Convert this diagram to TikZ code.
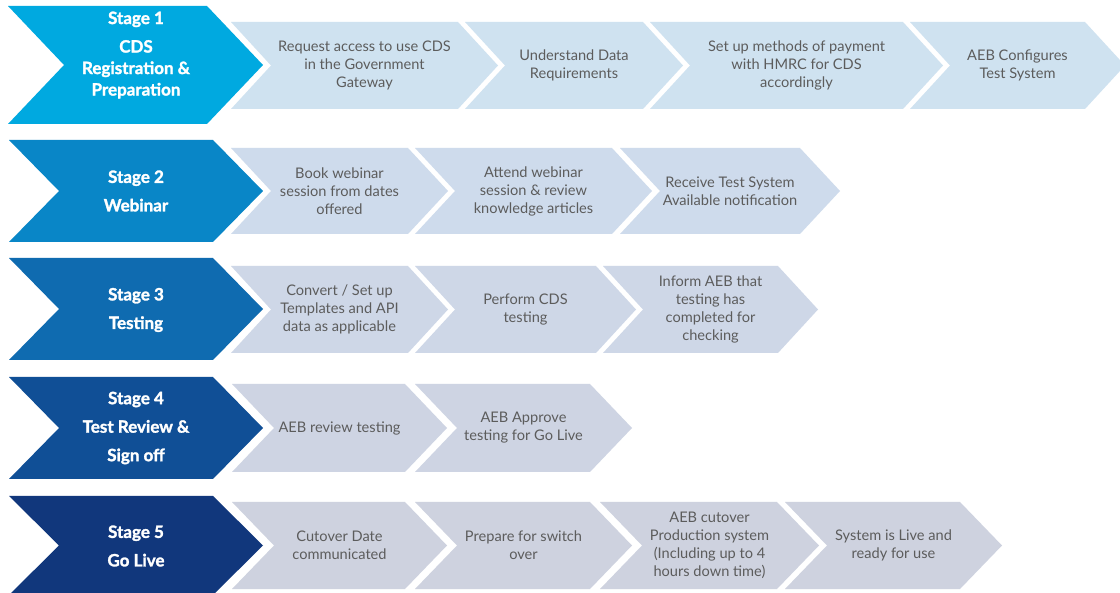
\documentclass[tikz,border=0pt]{standalone}
\usepackage{fontspec}
\setmainfont{Lato}[BoldFeatures={FakeBold=1.6}]
\definecolor{stageA}{RGB}{0,169,224}
\definecolor{stageB}{RGB}{9,134,199}
\definecolor{stageC}{RGB}{15,107,176}
\definecolor{stageD}{RGB}{16,79,150}
\definecolor{stageE}{RGB}{17,55,124}
\definecolor{lightA}{RGB}{207,226,240}
\definecolor{lightB}{RGB}{206,219,236}
\definecolor{lightC}{RGB}{206,215,231}
\definecolor{lightD}{RGB}{206,212,227}
\definecolor{lightE}{RGB}{206,210,223}
\definecolor{txtgray}{RGB}{92,92,92}
\tikzset{
  steptext/.style={text=txtgray, align=center, font=\fontsize{14.6}{18}\selectfont, inner sep=0pt},
  stagetext/.style={text=white, align=center, font=\bfseries\fontsize{17}{21.5}\selectfont, inner sep=0pt},
}
% #1 colour, #2 left, #3 right, #4 depth, #5 top, #6 bottom
\newcommand{\chevshape}[6]{%
  \fill[#1] (#2,#5) -- (#3,#5) -- ({#3+#4},{(#5+#6)/2}) -- (#3,#6) -- (#2,#6) -- ({#2+#4},{(#5+#6)/2}) -- cycle;}
% #1 colour, #2 left, #3 right, #4 depth, #5 top, #6 bottom, #7 name, #8 text
\newcommand{\chevstep}[8]{%
  \chevshape{#1}{#2}{#3}{#4}{#5}{#6}%
  \node[steptext] (#7) at ({(#2+#3+#4)/2},{(#5+#6)/2}) {#8};}
\begin{document}
\begin{tikzpicture}[x=1pt,y=-1pt]
\path[use as bounding box] (0,0) rectangle (1120,593);
\clip (0,0) rectangle (1120,593);
\fill[white] (0,0) rectangle (1120,593);

% Row 1
\chevshape{stageA}{8}{207}{56}{6}{124}
\node[stagetext] (s1) at (136,55) {Stage 1\\[7pt]CDS\\Registration \&\\Preparation};
\chevstep{lightA}{231}{458}{40}{22}{109}{a1}{Request access to use CDS\\in the Government\\Gateway}
\chevstep{lightA}{465}{643}{40}{22}{109}{a2}{Understand Data\\Requirements}
\chevstep{lightA}{650}{903}{40}{22}{109}{a3}{Set up methods of payment\\with HMRC for CDS\\accordingly}
\chevstep{lightA}{910}{1085}{40}{22}{109}{a4}{AEB Configures\\Test System}

% Row 2
\chevshape{stageB}{9}{213}{50}{140}{242}
\node[stagetext] (s2) at (136,191) {Stage 2\\[7pt]Webinar};
\chevstep{lightB}{231}{408}{40}{148}{234}{b1}{Book webinar\\session from dates\\offered}
\chevstep{lightB}{415}{612}{40}{148}{234}{b2}{Attend webinar\\session \& review\\knowledge articles}
\chevstep{lightB}{620}{800}{40}{148}{234}{b3}{Receive Test System\\Available notification}

% Row 3
\chevshape{stageC}{9}{213}{50}{258}{360}
\node[stagetext] (s3) at (136,310) {Stage 3\\[7pt]Testing};
\chevstep{lightC}{231}{408}{40}{266}{353}{c1}{Convert / Set up\\Templates and API\\data as applicable}
\chevstep{lightC}{415}{596}{40}{266}{353}{c2}{Perform CDS\\testing}
\chevstep{lightC}{603}{778}{40}{266}{353}{c3}{Inform AEB that\\testing has\\completed for\\checking}

% Row 4
\chevshape{stageD}{9}{213}{50}{377}{479}
\node[stagetext] (s4) at (136,428) {Stage 4\\[7pt]Test Review \&\\[7pt]Sign off};
\chevstep{lightD}{232}{405}{42}{384}{472}{d1}{AEB review testing}
\chevstep{lightD}{415}{590}{42}{384}{472}{d2}{AEB Approve\\testing for Go Live}

% Row 5
\chevshape{stageE}{9}{213}{50}{496}{595}
\node[stagetext] (s5) at (136,546) {Stage 5\\[7pt]Go Live};
\chevstep{lightE}{232}{405}{42}{502}{589}{e1}{Cutover Date\\communicated}
\chevstep{lightE}{415}{590}{42}{502}{589}{e2}{Prepare for switch\\over}
\chevstep{lightE}{600}{777}{42}{502}{589}{e3}{AEB cutover\\Production system\\(Including up to 4\\hours down time)}
\chevstep{lightE}{785}{960}{42}{502}{589}{e4}{System is Live and\\ready for use}
\end{tikzpicture}
\end{document}
